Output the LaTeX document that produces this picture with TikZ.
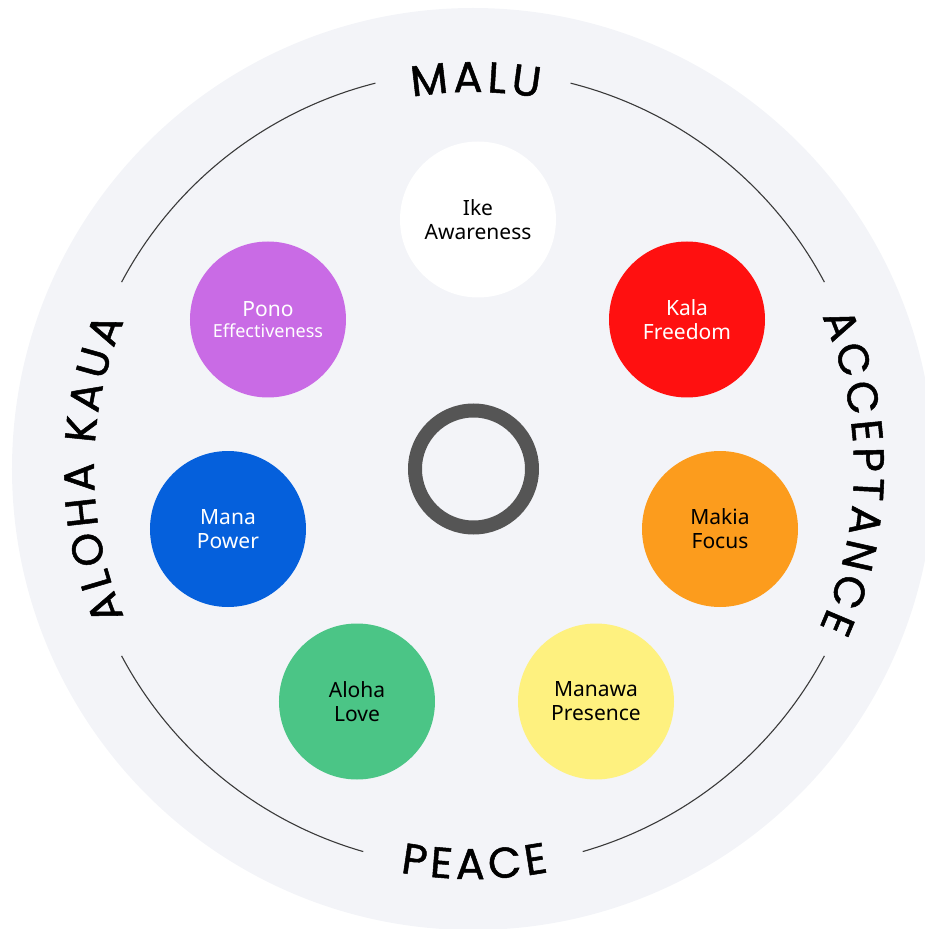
\documentclass[tikz,border=0pt]{standalone}
\usepackage{fontspec}
\newfontfamily\ballfont{Noto Sans}
\newfontfamily\ringfont[FakeBold=1.2]{Poppins}
\newcommand\ringsize{\ringfont\fontsize{43}{43}\selectfont}
\definecolor{bgc}{HTML}{F3F4F8}
\definecolor{arcc}{HTML}{3A3A3A}
\definecolor{ringc}{HTML}{555555}
\definecolor{ponoc}{HTML}{C96BE5}
\definecolor{kalac}{HTML}{FF1010}
\definecolor{manac}{HTML}{0560DC}
\definecolor{makiac}{HTML}{FC9C1D}
\definecolor{alohac}{HTML}{4BC586}
\definecolor{manawac}{HTML}{FEF17F}
\newbox\ctBox
\def\ctSpc{*}
\def\ctTrack{4.5}
\def\ctSpaceW{10}
\newcommand\ctDefW[1]{%
  \setbox\ctBox=\hbox{\ringsize #1}%
  \pgfmathsetmacro\ctTmp{\the\wd\ctBox}%
  \expandafter\xdef\csname ctw#1\endcsname{\ctTmp}}
\newcommand\ctMeasure[1]{%
  \ifx#1\ctSpc
    \edef\ctWn{\ctSpaceW}%
  \else
    \edef\ctWn{\csname ctw#1\endcsname}%
  \fi}
% #1 centre angle, #2 baseline radius (pt), #3 direction (1 clockwise/outward, -1 anticlockwise/inward), #4 letters
\newcommand\curvetext[4]{%
  \xdef\ctTot{0}%
  \foreach \ch in {#4}{%
    \ctMeasure{\ch}%
    \pgfmathsetmacro\ctTmp{\ctTot+\ctWn+\ctTrack}\xdef\ctTot{\ctTmp}%
  }%
  \pgfmathsetmacro\ctTmp{#1+#3*((\ctTot-\ctTrack)/2)/#2*180/pi}\xdef\ctCur{\ctTmp}%
  \foreach \ch in {#4}{%
    \ctMeasure{\ch}%
    \pgfmathsetmacro\ctMid{\ctCur-#3*(\ctWn/2)/#2*180/pi}%
    \pgfmathsetmacro\ctRot{\ctMid-90*#3}%
    \ifx\ch\ctSpc\else
      \node[anchor=base, inner sep=0pt, rotate=\ctRot] at (\ctMid:#2pt) {\ringsize\ch};
    \fi
    \pgfmathsetmacro\ctTmp{\ctCur-#3*(\ctWn+\ctTrack)/#2*180/pi}\xdef\ctCur{\ctTmp}%
  }%
}
\begin{document}
\ctDefW{M}\ctDefW{A}\ctDefW{L}\ctDefW{U}\ctDefW{O}\ctDefW{H}\ctDefW{K}%
\ctDefW{C}\ctDefW{E}\ctDefW{P}\ctDefW{T}\ctDefW{N}%
\begin{tikzpicture}[x=1pt,y=1pt,
  ball/.style={circle, minimum size=156pt, inner sep=0pt, align=center,
    font=\ballfont\fontsize{21}{24}\selectfont},
  guide/.style={draw=arcc, line width=1.1pt}]
\useasboundingbox (-473,-460) rectangle (452,469);
\begin{scope}
  \clip (-473,-460) rectangle (452,469);
  \fill[bgc] (0,0) circle[radius=461pt];
\end{scope}
% guide arcs
\draw[guide] (104.2:398pt) arc[start angle=104.2, end angle=152, radius=398pt];
\draw[guide] (208:398pt) arc[start angle=208, end angle=254, radius=398pt];
\draw[guide] (286:398pt) arc[start angle=286, end angle=332, radius=398pt];
\draw[guide] (28:398pt) arc[start angle=28, end angle=75.8, radius=398pt];
% curved labels
\curvetext{89.6}{377}{1}{M,A,L,U}
\curvetext{180}{379}{1}{A,L,O,H,A,*,K,A,U,A}
\curvetext{-0.5}{381}{1}{A,C,C,E,P,T,A,N,C,E}
\curvetext{270.2}{410}{-1}{P,E,A,C,E}
% center ring
\node[circle, draw=ringc, line width=14pt, minimum size=117pt, inner sep=0pt] (ring) at (0.5,0) {};
% balls
\node[ball, fill=white, text=black] (ike) at (5,249.5) {Ike\\Awareness};
\node[ball, fill=kalac, text=white] (kala) at (214,149.5) {Kala\\Freedom};
\node[ball, fill=ponoc, text=white] (pono) at (-205,149.5) {Pono\\[-3pt]\fontsize{18}{20}\selectfont Effectiveness};
\node[ball, fill=manac, text=white] (mana) at (-245,-60) {Mana\\Power};
\node[ball, fill=makiac, text=black] (makia) at (247,-60) {Makia\\Focus};
\node[ball, fill=alohac, text=black] (aloha) at (-116,-232.5) {Aloha\\Love};
\node[ball, fill=manawac, text=black] (manawa) at (123,-232.5) {Manawa\\Presence};
\end{tikzpicture}
\end{document}
